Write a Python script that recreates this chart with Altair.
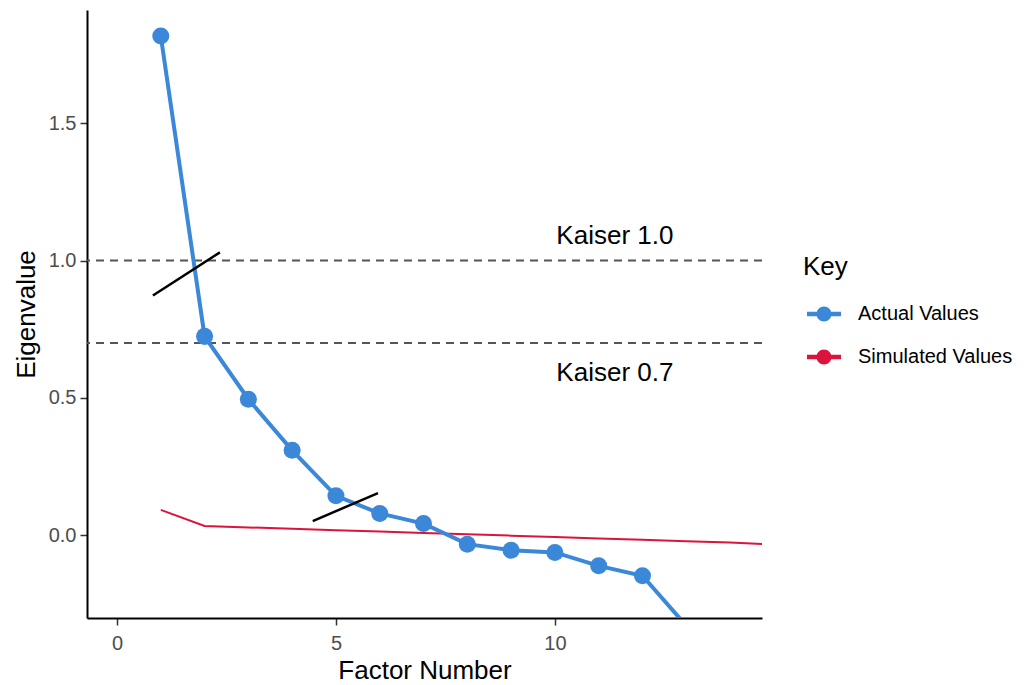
import altair as alt
import pandas as pd

factors = list(range(1, 16))
actual = [1.818, 0.724, 0.495, 0.309, 0.143, 0.079, 0.042, -0.033, -0.055, -0.063,
          -0.112, -0.148, -0.33, -0.42, -0.50]
simulated = [0.092, 0.033, 0.028, 0.023, 0.018, 0.013, 0.008, 0.003, -0.002, -0.007,
             -0.012, -0.017, -0.022, -0.027, -0.035]
series_names = ["Actual Values", "Simulated Values"]
series_colors = ["#3b88d8", "#dc143c"]
kaiser_levels = [1.0, 0.7]
kaiser_labels = ["Kaiser 1.0", "Kaiser 0.7"]
kaiser_label_x = [11.37, 11.37]
kaiser_label_y = [1.09, 0.59]
seg_x = [0.82, 4.47]
seg_y = [0.873, 0.051]
seg_x2 = [2.35, 5.96]
seg_y2 = [1.03, 0.153]

X_DOMAIN = [-0.685, 14.73]
Y_DOMAIN = [-0.302, 1.913]

act_df = pd.DataFrame({"factor": factors, "value": actual, "Key": series_names[0]})
sim_df = pd.DataFrame({"factor": factors, "value": simulated, "Key": series_names[1]})
k_df = pd.DataFrame({"y": kaiser_levels})
lab_df = pd.DataFrame({"x": kaiser_label_x, "y": kaiser_label_y, "t": kaiser_labels})
seg_df = pd.DataFrame({"x": seg_x, "y": seg_y, "x2": seg_x2, "y2": seg_y2})

xs = alt.Scale(domain=X_DOMAIN, nice=False, zero=False)
ys = alt.Scale(domain=Y_DOMAIN, nice=False, zero=False)

x_axis = alt.Axis(values=[0, 5, 10], title="Factor Number", grid=False,
                  labelFontSize=20, titleFontSize=26, labelPadding=8, titlePadding=4,
                  tickSize=7)
y_axis = alt.Axis(values=[0, 0.5, 1.0, 1.5], format=".1f", title="Eigenvalue", grid=False,
                  labelFontSize=20, titleFontSize=26, labelPadding=4, titlePadding=9,
                  tickSize=7)

sym = ("M-1,-0.13H-0.42V0.13H-1Z M0.42,-0.13H1V0.13H0.42Z "
       "M-0.44,0A0.44,0.44 0 1,1 0.44,0A0.44,0.44 0 1,1 -0.44,0Z")

kaiser = alt.Chart(k_df).mark_rule(color="#555555", strokeWidth=2, strokeDash=[8, 6]).encode(
    y=alt.Y("y:Q", scale=ys, axis=y_axis)
)

sim_line = alt.Chart(sim_df).mark_line(color=series_colors[1], strokeWidth=2, clip=True).encode(
    x=alt.X("factor:Q", scale=xs, axis=x_axis),
    y=alt.Y("value:Q", scale=ys, axis=y_axis),
)

act_line = alt.Chart(act_df).mark_line(color=series_colors[0], strokeWidth=4, clip=True).encode(
    x=alt.X("factor:Q", scale=xs, axis=x_axis),
    y=alt.Y("value:Q", scale=ys, axis=y_axis),
)

act_pts = alt.Chart(act_df).mark_circle(size=290, opacity=1, clip=True).encode(
    x=alt.X("factor:Q", scale=xs, axis=x_axis),
    y=alt.Y("value:Q", scale=ys, axis=y_axis),
    color=alt.Color(
        "Key:N",
        scale=alt.Scale(domain=series_names, range=series_colors),
        legend=alt.Legend(
            title="Key", orient="none", legendX=716, legendY=244,
            symbolType=sym, symbolSize=1156, symbolStrokeWidth=0, symbolOffset=4,
            titleFontSize=26, titleFontWeight="normal", titleColor="black",
            labelFontSize=20, labelColor="black", rowPadding=16,
            titlePadding=17, labelOffset=17,
        ),
    ),
)

segs = alt.Chart(seg_df).mark_rule(color="black", strokeWidth=2.5).encode(
    x=alt.X("x:Q", scale=xs, axis=x_axis),
    y=alt.Y("y:Q", scale=ys, axis=y_axis),
    x2="x2:Q",
    y2="y2:Q",
)

labels = alt.Chart(lab_df).mark_text(fontSize=26, color="black", align="center", baseline="middle").encode(
    x=alt.X("x:Q", scale=xs, axis=x_axis),
    y=alt.Y("y:Q", scale=ys, axis=y_axis),
    text="t:N",
)

chart = alt.layer(kaiser, sim_line, act_line, act_pts, segs, labels).properties(
    width=675, height=608,
    autosize=alt.AutoSizeParams(type="none"),
    padding={"left": 79, "top": 2, "right": 250, "bottom": 65},
).configure(
    font="Liberation Sans",
).configure_view(
    stroke=None,
).configure_axis(
    domainColor="black", domainWidth=2, tickColor="#333333", tickWidth=1.5,
    labelColor="#4d4d4d", titleFontWeight="normal", titleColor="black",
)

chart.save("out.html", embed_options={"renderer": "svg", "actions": False})
